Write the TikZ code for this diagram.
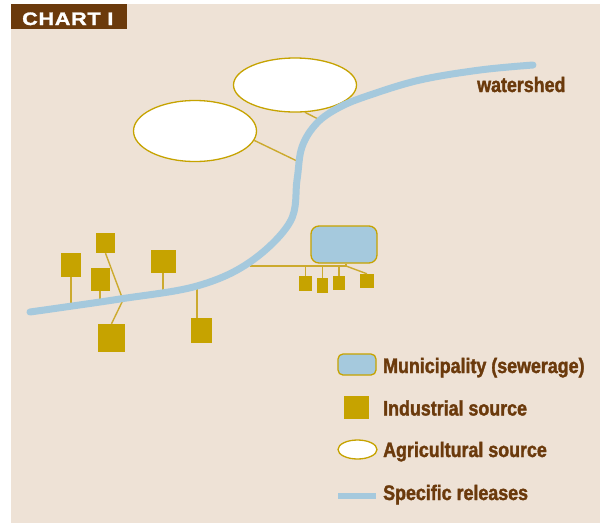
\documentclass[tikz,border=0pt]{standalone}
\usepackage{fontspec}
\usetikzlibrary{shapes.geometric}
\newfontfamily\labfont{Liberation Sans}[FakeStretch=0.85,FakeBold=1.6]
\newfontfamily\chartfont{Liberation Sans}[FakeStretch=1.2,LetterSpace=4,FakeBold=1.5]
\definecolor{bgc}{HTML}{EEE2D6}
\definecolor{brownc}{HTML}{6B3A0C}
\definecolor{goldc}{HTML}{C6A300}
\definecolor{linec}{HTML}{CCAA2E}
\definecolor{riverc}{HTML}{A5C9DD}
\tikzset{
  indsq/.style={rectangle, fill=goldc, inner sep=0pt},
  agri/.style={ellipse, draw=goldc, line width=1.3pt, fill=white, inner sep=0pt},
  muni/.style={rectangle, rounded corners=8pt, draw=goldc, line width=1.3pt, fill=riverc, inner sep=0pt},
  conn/.style={draw=linec, line width=1.4pt},
  river/.style={draw=riverc, line width=7pt, line cap=round},
  legtext/.style={anchor=base west, inner sep=0pt, text=brownc, font=\labfont\bfseries\fontsize{21}{24}\selectfont},
}
\begin{document}
\begin{tikzpicture}[x=1pt,y=-1pt]
\useasboundingbox (0,0) rectangle (600,523);
\fill[bgc] (11,4) rectangle (600,523);
\fill[brownc] (11,4) rectangle (127,29);
\node[anchor=base west, inner sep=0pt, text=white, font=\chartfont\bfseries\fontsize{18}{20}\selectfont] (title) at (22,25) {CHART I};

% agricultural sources
\node[agri, minimum width=123pt, minimum height=61pt] (e1) at (195,131) {};
\node[agri, minimum width=123pt, minimum height=54pt] (e2) at (295,85) {};

% industrial sources
\node[indsq, minimum width=20pt, minimum height=24pt] (sqA) at (71,265) {};
\node[indsq, minimum width=19pt, minimum height=20pt] (sqB) at (105.5,243) {};
\node[indsq, minimum width=19pt, minimum height=23pt] (sqC) at (100,279.5) {};
\node[indsq, minimum width=25pt, minimum height=23pt] (sqD) at (163,261.5) {};
\node[indsq, minimum width=27pt, minimum height=28pt] (sqE) at (111.5,338) {};
\node[indsq, minimum width=21pt, minimum height=25pt] (sqF) at (201.5,330.5) {};

% municipality
\node[muni, minimum width=66pt, minimum height=37pt] (mun) at (344,244.5) {};
\node[indsq, minimum width=13pt, minimum height=15pt] (s1) at (305.5,283.5) {};
\node[indsq, minimum width=11pt, minimum height=15pt] (s2) at (322.5,285.5) {};
\node[indsq, minimum width=12pt, minimum height=14pt] (s3) at (339,283) {};
\node[indsq, minimum width=14pt, minimum height=14pt] (s4) at (367,281) {};

% river attachment points
\coordinate (rA) at (71,306);
\coordinate (rB) at (123,300);
\coordinate (rC) at (100,302);
\coordinate (rD) at (163,292);
\coordinate (rF) at (197,286);
\coordinate (rM) at (250,266);
\coordinate (hub) at (346,266);
\coordinate (rE1) at (297,161);
\coordinate (rE2) at (322,121);

% connectors
\draw[conn] (sqA.south) -- (rA);
\draw[conn] (sqB.south) -- (rB) -- (sqE.north);
\draw[conn] (sqC.south) -- (rC);
\draw[conn] (sqD.south) -- (rD);
\draw[conn] (rF) -- (sqF.north -| rF);
\draw[conn] (e1.-9) -- (rE1);
\draw[conn] (e2.-70) -- (rE2);
\draw[conn] (rM) -- (hub);
\draw[conn] (mun.south -| hub) -- (hub);
\draw[conn] (s1.north) -- (s1.north |- hub);
\draw[conn] (s2.north) -- (s2.north |- hub);
\draw[conn] (s3.north) -- (s3.north |- hub);
\draw[conn] (hub) -- (s4.north);

% river
\draw[river] plot[smooth, tension=0.6] coordinates {(30,312) (120,299) (197,286) (250,262) (290,222) (297,180) (302,147) (317,123) (340,107) (370,95) (420,80) (480,70) (533,65)};
\node[legtext] (ws) at (477,92) {watershed};

% legend
\node[muni, rounded corners=5pt, minimum width=38pt, minimum height=21pt] (lmun) at (357,364.5) {};
\node[indsq, minimum width=25pt, minimum height=23pt] (lind) at (356.5,407.5) {};
\node[agri, minimum width=39pt, minimum height=19pt] (lagr) at (357.5,449.5) {};
\coordinate (lr1) at (338,496);
\coordinate (lr2) at (376,496);
\draw[draw=riverc, line width=6pt] (lr1) -- (lr2);
\node[legtext] (t1) at (383,373) {Municipality (sewerage)};
\node[legtext] (t2) at (383,415.5) {Industrial source};
\node[legtext] (t3) at (383,457) {Agricultural source};
\node[legtext] (t4) at (383,500) {Specific releases};
\end{tikzpicture}
\end{document}
